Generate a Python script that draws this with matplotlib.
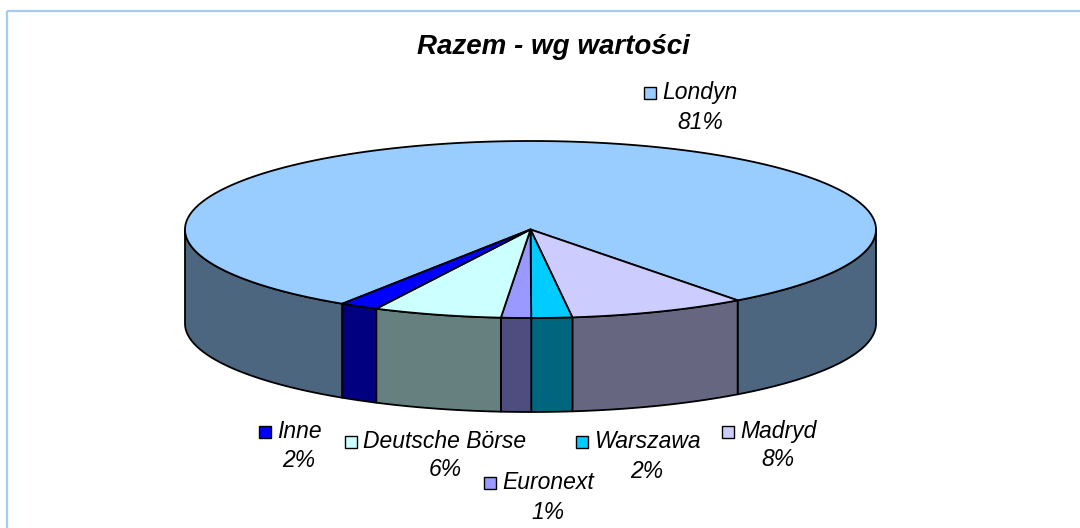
import numpy as np
import matplotlib
matplotlib.use("Agg")
import matplotlib.pyplot as plt
from matplotlib.patches import Polygon, Rectangle
from matplotlib.colors import to_rgb

# ---- data ----
categories = ["Londyn", "Madryd", "Warszawa", "Euronext", "Deutsche Börse", "Inne"]
values = [80.6, 8.3, 1.9, 1.4, 6.0, 1.8]
colors = ["#99CCFF", "#CCCCFF", "#00CCFF", "#9999FF", "#CCFFFF", "#0000FF"]
title = "Razem - wg wartości"

# ---- layout (pixels) ----
W, H = 1080, 528
CX, CY, A, B, DEPTH = 530.5, 229.5, 345.5, 88.5, 94
START = 123.0  # degrees, clockwise on screen
# label anchor: (name centre x, name caps-centre y, pct caps-centre y)
label_pos = {
    "Londyn": (700, 91, 121),
    "Madryd": (778, 430, 458),
    "Warszawa": (647, 440, 470),
    "Euronext": (548, 481, 511),
    "Deutsche Börse": (445, 440, 468),
    "Inne": (299, 430, 459),
}

plt.rcParams['font.family'] = ['Liberation Sans', 'DejaVu Sans']
fig = plt.figure(figsize=(W / 100, H / 100), dpi=100)
ax = fig.add_axes([0, 0, 1, 1])
ax.set_xlim(0, W)
ax.set_ylim(H, 0)
ax.axis('off')

# frame
ax.add_patch(Rectangle((7, 11), W + 20, H + 20, fill=False, edgecolor="#A6CAF0", lw=1.6))


def arc(t0, t1, dy=0.0):
    n = max(int(abs(t1 - t0) * 2) + 2, 3)
    t = np.radians(np.linspace(t0, t1, n))
    return np.column_stack([CX + A * np.cos(t), CY + B * np.sin(t) + dy])


def darker(c):
    r, g, b = to_rgb(c)
    return (r * 0.5, g * 0.5, b * 0.5)


total = sum(values)
angles = []
a0 = START
for v in values:
    a1 = a0 + v / total * 360.0
    angles.append((a0, a1))
    a0 = a1

LW = 1.3
# side walls (front half only: sin > 0)
for (s, e), c in zip(angles, colors):
    for k in range(-2, 6, 2):
        lo, hi = max(s, 180 * k), min(e, 180 * k + 180)
        if hi > lo:
            top = arc(lo, hi)
            bot = arc(hi, lo, DEPTH)
            ax.add_patch(Polygon(np.vstack([top, bot]), closed=True,
                                 facecolor=darker(c), edgecolor="black", lw=LW,
                                 joinstyle='round'))
# top faces
for (s, e), c in zip(angles, colors):
    pts = np.vstack([[CX, CY], arc(s, e)])
    ax.add_patch(Polygon(pts, closed=True, facecolor=c, edgecolor="black",
                         lw=LW, joinstyle='round'))

# title
ax.text(553, 47, title, ha='center', va='center', fontsize=20,
        fontweight='bold', fontstyle='italic')

# labels
fig.canvas.draw()
renderer = fig.canvas.get_renderer()
inv = ax.transData.inverted()
for name, v, c in zip(categories, values, colors):
    x, y1, y2 = label_pos[name]
    t = ax.text(x, y1 + 8, name, ha='center', va='baseline', fontsize=16.5,
                fontstyle='italic')
    ax.text(x, y2 + 8, f"{v:.0f}%", ha='center', va='baseline', fontsize=16.5,
            fontstyle='italic')
    bb = t.get_window_extent(renderer)
    x0 = inv.transform((bb.x0, bb.y0))[0]
    ax.add_patch(Rectangle((x0 - 18, y1 - 4), 12, 12, facecolor=c,
                           edgecolor="black", lw=1.0))

fig.savefig("out.png", dpi=100)
